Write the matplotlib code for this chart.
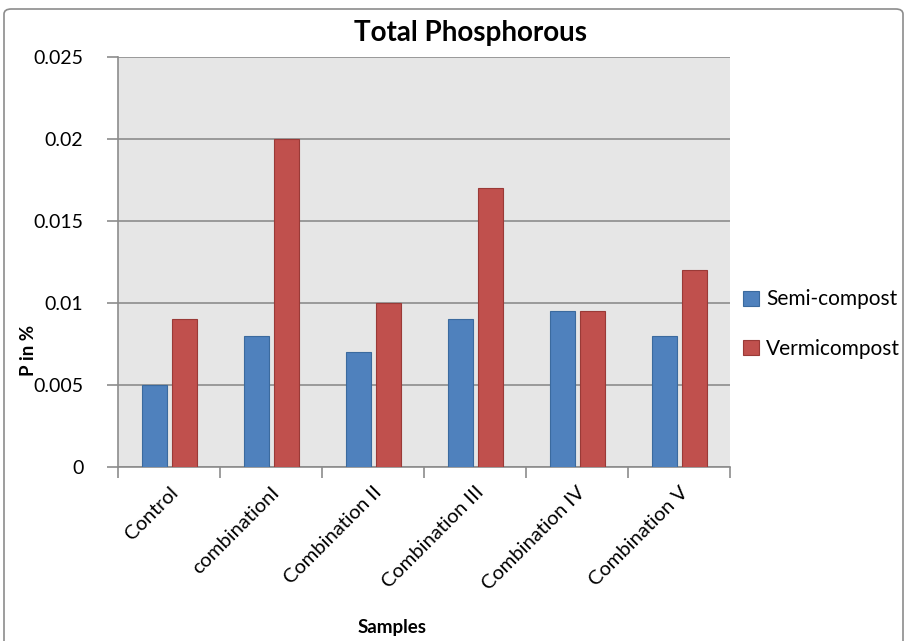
import numpy as np
import matplotlib
matplotlib.use('Agg')
import matplotlib.pyplot as plt
from matplotlib.patches import FancyBboxPatch

plt.rcParams['font.family'] = ['Lato', 'DejaVu Sans']

samples = ['Control', 'combinationI', 'Combination II', 'Combination III',
           'Combination IV', 'Combination V']
semi_compost = [0.005, 0.008, 0.007, 0.009, 0.0095, 0.008]
vermicompost = [0.009, 0.020, 0.010, 0.017, 0.0095, 0.012]

fig = plt.figure(figsize=(9.06, 6.41), dpi=100)
ax = fig.add_axes([118/906, 1-467/641, (730-118)/906, (467-57)/641])

# outer chart border
border = FancyBboxPatch((4/906, -0.05), 899/906, 1.05 - 9/641,
                        boxstyle='round,pad=0,rounding_size=0.008',
                        transform=fig.transFigure, fill=False,
                        edgecolor='#8c8c8c', linewidth=1.2)
fig.patches.append(border)

x = np.arange(len(samples))
w = 0.245
ax.bar(x - 0.145, semi_compost, w, color='#4F81BD', edgecolor='#3b6a9e',
       linewidth=0.8, label='Semi-compost', zorder=3)
ax.bar(x + 0.155, vermicompost, w, color='#C0504D', edgecolor='#9a3a37',
       linewidth=0.8, label='Vermicompost', zorder=3)

ax.set_facecolor('#e6e6e6')
ax.set_xlim(-0.5, len(samples) - 0.5)
ax.set_ylim(0, 0.025)
ax.set_yticks([0, 0.005, 0.01, 0.015, 0.02, 0.025])
ax.set_yticklabels(['0', '0.005', '0.01', '0.015', '0.02', '0.025'], fontsize=14)
ax.grid(axis='y', color='#8c8c8c', linewidth=1.2, zorder=0)

ax.set_xticks(x)
ax.set_xticklabels(samples, rotation=45, ha='right', rotation_mode='anchor',
                   fontsize=14.5)
ax.set_xticks(np.arange(len(samples) + 1) - 0.5, minor=True)
ax.tick_params(axis='x', which='major', length=0, pad=12)
ax.tick_params(axis='x', which='minor', length=8, color='#8c8c8c', width=1.2)
ax.tick_params(axis='y', length=8, color='#8c8c8c', width=1.2, pad=17)

for s in ['top', 'right']:
    ax.spines[s].set_visible(False)
for s in ['left', 'bottom']:
    ax.spines[s].set_color('#8c8c8c')
    ax.spines[s].set_linewidth(1.2)

fig.text(470/906, 1-33/641, 'Total Phosphorous', ha='center', va='center',
         fontsize=20, fontweight='bold')
fig.text(392/906, 1-627/641, 'Samples', ha='center', va='center',
         fontsize=13.5, fontweight='bold')
fig.text(28/906, 1-350/641, 'P in %', ha='center', va='center', rotation=90,
         fontsize=13.5, fontweight='bold')

fig.legend(loc='center left', bbox_to_anchor=(733/906, 1-324/641),
           frameon=False, fontsize=15, handlelength=0.75, handleheight=0.75,
           handletextpad=0.35, labelspacing=1.4, borderpad=0)

fig.savefig('out.png', dpi=100)
